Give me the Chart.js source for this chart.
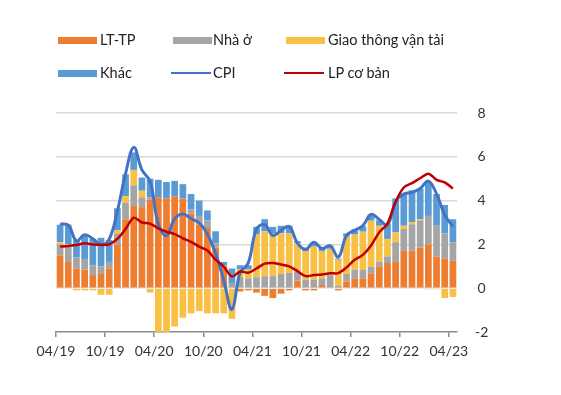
<!DOCTYPE html>
<html>
<head>
<meta charset="utf-8">
<script src="https://cdn.jsdelivr.net/npm/chart.js@4.4.0/dist/chart.umd.min.js"></script>
<style>
  body { margin: 0; background: #fff; }
  #wrap { position: relative; width: 561px; height: 395px; font-family: Lato, sans-serif; color: #222; }
  #plot { position: absolute; left: 0; top: 0; }
  .txt { position: absolute; font-size: 14.5px; line-height: 18px; white-space: nowrap; }
  .sw { position: absolute; }
</style>
</head>
<body>
<div id="wrap">
  <canvas id="plot" width="561" height="395"></canvas>

  <div class="sw" style="left:58px;top:37px;width:39px;height:7px;background:#ED7D31"></div>
  <div class="txt" style="left:100px;top:31px">LT-TP</div>
  <div class="sw" style="left:173px;top:37px;width:39px;height:7px;background:#A5A5A5"></div>
  <div class="txt" style="left:213px;top:31px">Nhà ở</div>
  <div class="sw" style="left:286px;top:37px;width:39px;height:7px;background:#F8C146"></div>
  <div class="txt" style="left:328px;top:31px">Giao thông vận tải</div>

  <div class="sw" style="left:58px;top:70px;width:39px;height:7px;background:#5B9BD5"></div>
  <div class="txt" style="left:100px;top:64px">Khác</div>
  <div class="sw" style="left:171px;top:72px;width:40px;height:2px;background:#4472C4"></div>
  <div class="txt" style="left:213px;top:64px">CPI</div>
  <div class="sw" style="left:284px;top:72px;width:40px;height:2px;background:#C00000"></div>
  <div class="txt" style="left:328px;top:64px">LP cơ bản</div>
</div>

<script>
const months = ['04/19','05/19','06/19','07/19','08/19','09/19','10/19','11/19','12/19',
    '01/20','02/20','03/20','04/20','05/20','06/20','07/20','08/20','09/20','10/20','11/20','12/20',
    '01/21','02/21','03/21','04/21','05/21','06/21','07/21','08/21','09/21','10/21','11/21','12/21',
    '01/22','02/22','03/22','04/22','05/22','06/22','07/22','08/22','09/22','10/22','11/22','12/22',
    '01/23','02/23','03/23','04/23']

// contributions to CPI, percentage points
const ltTp = [1.5, 1.2, 0.9, 0.85, 0.6, 0.65, 0.9, 2.0, 3.15,
    3.75, 3.7, 4.05, 4.15, 4.1, 4.2, 4.1, 3.4, 2.9, 2.75, 1.85, 1.0,
    0.05, -0.15, -0.1, -0.2, -0.35, -0.45, -0.25, -0.1, 0.35, -0.1, -0.1, 0.15,
    0.05, -0.1, 0.3, 0.45, 0.45, 0.68, 1.0, 1.15, 1.2, 1.7, 1.72, 1.85,
    2.0, 1.45, 1.35, 1.25]
const nhaO = [0.5, 0.7, 0.5, 0.45, 0.45, 0.35, 0.3, 0.5, 0.75,
    0.95, 0.45, 0.1, 0, 0, 0, 0, 0.2, 0.4, 0.35, 0.2, 0.05,
    0.15, 0.5, 0.45, 0.5, 0.55, 0.55, 0.65, 0.7, 0.4, 0.4, 0.4, 0.3,
    0.55, 0.1, 0.35, 0.4, 0.38, 0.3, 0.2, 0.3, 0.9, 1.0, 1.2, 1.25,
    1.3, 1.4, 1.15, 0.85]
const gtvt = [0.1, 0.1, -0.1, -0.1, -0.1, -0.3, -0.3, 0.15, 0.3,
    0.7, 0.3, -0.2, -2.3, -2.3, -1.75, -1.35, -1.15, -1.05, -1.15, -1.15, -1.15,
    -1.4, 0.35, 0.4, 1.95, 2.05, 1.95, 1.85, 1.8, 1.3, 1.3, 1.5, 1.25,
    1.2, 1.2, 1.7, 1.6, 1.75, 2.1, 1.65, 0.8, 0.45, 0.15, 0.1, 0.05,
    -0.05, -0.05, -0.45, -0.4]
const khac = [0.8, 0.9, 0.8, 1.15, 1.2, 1.3, 1.0, 1.0, 1.0,
    0.8, 0.6, 0.85, 0.8, 0.75, 0.7, 0.65, 0.7, 0.7, 0.45, 0.55, 0.15,
    0.7, 0.2, 0.2, 0.35, 0.55, 0.3, 0.35, 0.35, 0.1, 0.15, 0.2, 0.15,
    0.15, 0.05, 0.15, 0.25, 0.25, 0.3, 0.25, 0.7, 1.55, 1.45, 1.45, 1.4,
    1.55, 1.45, 1.3, 1.05]

const cpi = [2.93, 2.88, 2.16, 2.44, 2.26, 1.98, 2.24, 3.52, 5.23,
    6.43, 5.40, 4.87, 2.93, 2.40, 3.17, 3.39, 3.18, 2.98, 2.47, 1.6, 0.35,
    -0.97, 0.70, 1.16, 2.70, 2.90, 2.41, 2.64, 2.82, 2.06, 1.77, 2.10, 1.81,
    1.94, 1.42, 2.41, 2.64, 2.86, 3.37, 3.14, 2.89, 3.94, 4.30, 4.37, 4.55,
    4.89, 4.31, 3.35, 2.81]
const lpCoBan = [1.9, 1.93, 1.97, 2.05, 2.0, 1.98, 2.0, 2.25, 2.7,
    3.22, 3.0, 2.95, 2.73, 2.58, 2.47, 2.28, 2.12, 1.9, 1.72, 1.3, 0.98,
    0.53, 0.76, 0.71, 0.9, 1.12, 1.15, 1.08, 1.0, 0.78, 0.55, 0.6, 0.63,
    0.68, 0.69, 0.95, 1.3, 1.52, 1.95, 2.55, 2.95, 3.95, 4.6, 4.8, 5.02,
    5.23, 4.95, 4.83, 4.55]

const yTicks = [-2, 0, 2, 4, 6, 8]

const font = { family: 'Lato', size: 14 }

function barSet(label, values, color) {
    return {
        type: 'bar',
        label: label,
        data: values,
        backgroundColor: color,
        barPercentage: 0.82,
        categoryPercentage: 1,
        stack: 'tp',
        order: 2
    }
}

const data = {
    labels: months,
    datasets: [
        barSet('LT-TP', ltTp, '#ED7D31'),
        barSet('Nhà ở', nhaO, '#A5A5A5'),
        barSet('Giao thông vận tải', gtvt, '#F8C146'),
        barSet('Khác', khac, '#5B9BD5'),
        {
            type: 'line',
            label: 'CPI',
            data: cpi,
            borderColor: '#4472C4',
            borderWidth: 3,
            pointRadius: 0,
            tension: 0.4,
            stack: 'cpi',
            order: 1
        },
        {
            type: 'line',
            label: 'LP cơ bản',
            data: lpCoBan,
            borderColor: '#C00000',
            borderWidth: 2.5,
            pointRadius: 0,
            tension: 0.3,
            stack: 'core',
            order: 0
        }
    ]
}

const config = {
    type: 'bar',
    data: data,
    options: {
        responsive: false,
        animation: false,
        devicePixelRatio: 1,
        layout: { padding: { left: 56, right: 72, top: 113, bottom: 33 } },
        plugins: {
            legend: { display: false },
            tooltip: { enabled: false }
        },
        scales: {
            x: {
                stacked: true,
                afterFit: (scale) => { scale.height = 30 },
                border: { display: true, color: '#8c8c8c', width: 1.5 },
                grid: {
                    offset: true,
                    drawOnChartArea: false,
                    drawTicks: true,
                    tickLength: 5,
                    lineWidth: 1.5,
                    color: (ctx) => (ctx.index % 6 === 0 ? '#8c8c8c' : 'rgba(0,0,0,0)')
                },
                ticks: {
                    autoSkip: false,
                    maxRotation: 0,
                    padding: 6,
                    labelOffset: -4.1,
                    color: '#333',
                    font: font,
                    callback: (v, i) => (i % 6 === 0 ? months[i] : '')
                }
            },
            y: {
                stacked: true,
                position: 'right',
                min: yTicks[0],
                max: yTicks[yTicks.length - 1],
                afterFit: (scale) => { scale.width = 32 },
                afterBuildTicks: (scale) => { scale.ticks = yTicks.map(v => ({ value: v })) },
                border: { display: false },
                grid: {
                    drawTicks: false,
                    lineWidth: 1.5,
                    color: (ctx) => (ctx.tick && ctx.tick.value === -2 ? 'rgba(0,0,0,0)' : '#d9d9d9')
                },
                ticks: {
                    crossAlign: 'center',
                    padding: 18,
                    color: '#333',
                    font: font
                }
            }
        }
    }
}

myChart = new Chart(document.getElementById('plot'), config)
</script>
</body>
</html>
